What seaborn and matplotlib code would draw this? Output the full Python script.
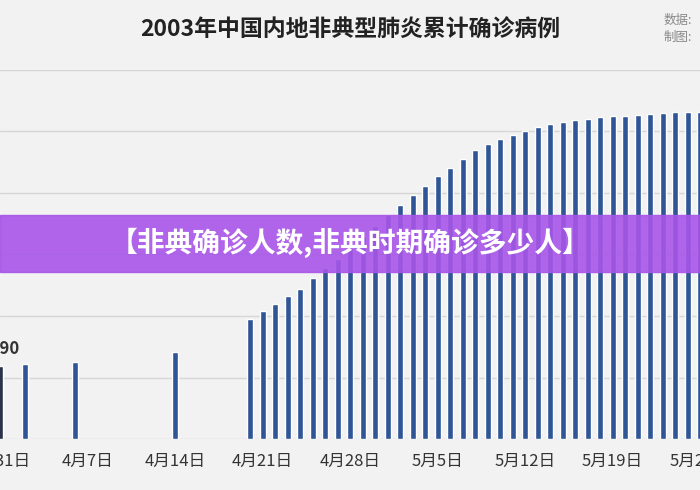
import matplotlib
matplotlib.use("Agg")
import matplotlib.pyplot as plt
import seaborn as sns
import pandas as pd
import numpy as np

dates = ["2003-03-31","2003-04-02","2003-04-06","2003-04-14"] + \
        [d.strftime("%Y-%m-%d") for d in pd.date_range("2003-04-20","2003-05-26")]
values = [1190, 1220, 1250, 1418,
          1959, 2080, 2200, 2320, 2440, 2620, 2780, 2930, 3110, 3300, 3460,
          3640, 3800, 3960, 4120, 4280, 4410, 4560, 4700, 4800, 4880, 4950,
          5010, 5080, 5120, 5160, 5190, 5210, 5236, 5248, 5249, 5271, 5285, 5300,
          5310, 5318, 5325]
tick_labels = ["3月31日","4月7日","4月14日","4月21日","4月28日","5月5日","5月12日","5月19日","5月26日"]
title = "2003年中国内地非典型肺炎累计确诊病例"
banner = "【非典确诊人数,非典时期确诊多少人】"

sns.set_theme(style="white")
plt.rcParams['font.family'] = ['Noto Sans CJK SC', 'DejaVu Sans']

t0 = pd.Timestamp("2003-03-31")
df = pd.DataFrame({"day": [(pd.Timestamp(d) - t0).days for d in dates], "v": values})
df["grp"] = ["hl"] + ["n"] * (len(df) - 1)

bg = "#f2f2f2"
fig = plt.figure(figsize=(7, 4.9), dpi=100, facecolor=bg)
ax = fig.add_axes([0, 51/490, 1, (439-70)/490])
ax.set_facecolor(bg)
sns.barplot(data=df, x="day", y="v", hue="grp", native_scale=True, width=0.48,
            palette={"hl": "#2a3448", "n": "#2f5597"}, legend=False, ax=ax, saturation=1)
ax.set_xlim(-0.02, 55.45)
ax.set_ylim(0, 6000)
for g in range(0, 7000, 1000):
    ax.axhline(g, color="#d6d6d6", lw=1, zorder=0)
ax.set_xticks([0, 7, 14, 21, 28, 35, 42, 49, 56])
ax.set_xticklabels(tick_labels, fontsize=12, color="#333333")
ax.tick_params(axis="x", length=0, pad=10)
ax.set_yticks([])
ax.set_xlabel(""); ax.set_ylabel("")
for s in ax.spines.values():
    s.set_visible(False)
ax.text(0, 1190 + 120, "1190", ha="center", va="bottom", fontsize=12, fontweight="bold", color="#333333")

fig.text(0.5, 1 - 30/490, title, ha="center", va="center", fontsize=16.5, fontweight="bold", color="#222222")
fig.text(0.948, 1 - 20/490, "数据:", ha="left", va="center", fontsize=9, color="#888888")
fig.text(0.948, 1 - 37/490, "制图:", ha="left", va="center", fontsize=9, color="#888888")

fig.patches.append(plt.Rectangle((0, 1 - 272/490), 1, 57/490, transform=fig.transFigure,
                                 color="#a855e8", alpha=0.9, zorder=5))
fig.text(0.5, 1 - 243/490, banner, ha="center", va="center", fontsize=20, fontweight="bold",
         color="white", zorder=6)
fig.savefig("out.png", dpi=100, facecolor=bg)
